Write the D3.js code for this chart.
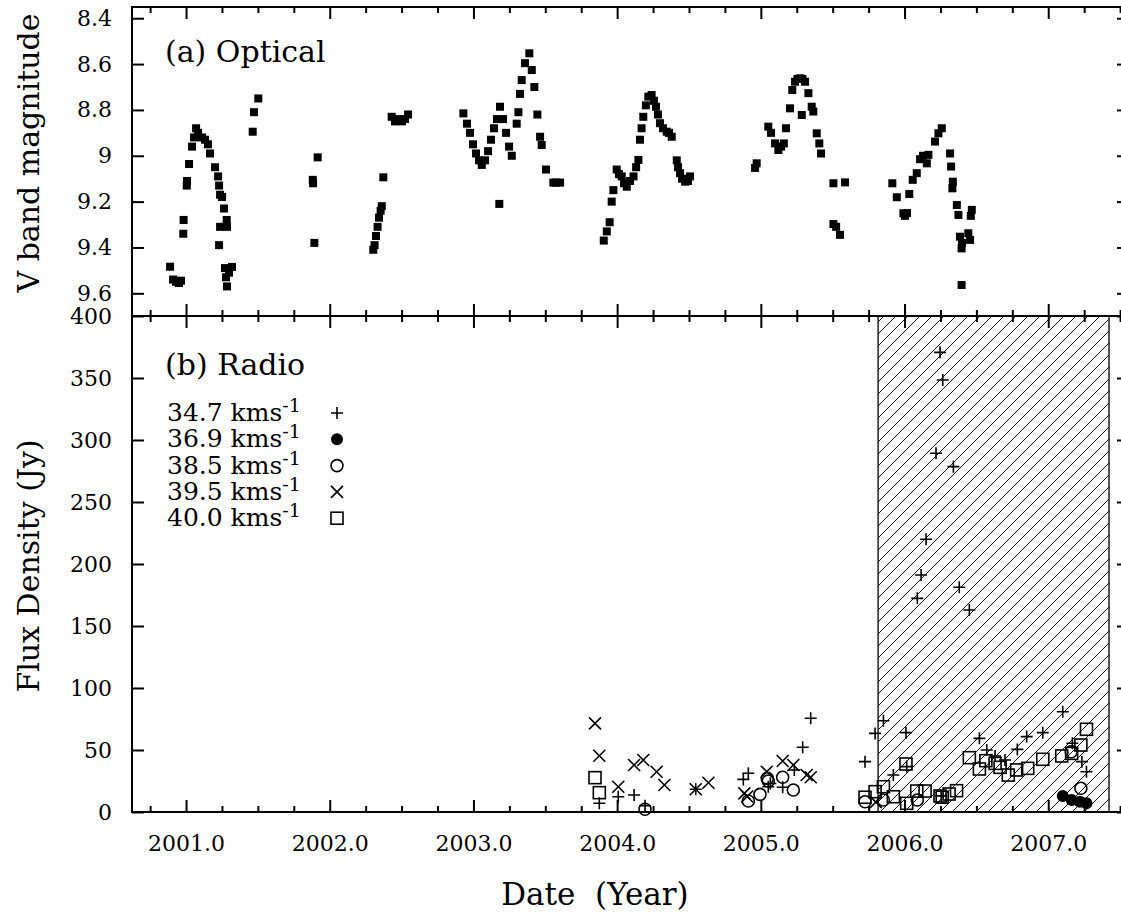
<!DOCTYPE html>
<html>

<head>
    <meta charset="UTF-8">
    <style>
        body { margin: 0; background: #fff; }
    </style>
    <script src="https://d3js.org/d3.v7.min.js"></script>
</head>

<body>
    <svg></svg>

    <script>
        let width = 1121, height = 912;
        const FONT = "'DejaVu Serif', serif";

        // ---- data ----
        // (a) optical: date (year) and V magnitude
        let optYear = [2000.889, 2000.910, 2000.930, 2000.951, 2000.965, 2000.981, 2000.983, 2001.005, 2001.007, 2001.021,
            2001.042, 2001.056, 2001.070, 2001.084, 2001.111, 2001.132, 2001.153, 2001.167, 2001.202, 2001.223,
            2001.230, 2001.237, 2001.251, 2001.264, 2001.283, 2001.285, 2001.237, 2001.230, 2001.271, 2001.278,
            2001.285, 2001.299, 2001.320, 2001.464, 2001.473, 2001.503, 2001.882, 2001.884, 2001.916, 2001.893,
            2002.303, 2002.312, 2002.322, 2002.333, 2002.343, 2002.354, 2002.362, 2002.373, 2002.431, 2002.454,
            2002.475, 2002.503, 2002.524, 2002.545,
            2002.930, 2002.955, 2002.976, 2002.997, 2003.018, 2003.039, 2003.058, 2003.081, 2003.102, 2003.122,
            2003.143, 2003.164, 2003.185, 2003.206, 2003.227, 2003.248, 2003.267, 2003.301, 2003.313, 2003.324,
            2003.336, 2003.359, 2003.389, 2003.406, 2003.424, 2003.445, 2003.464, 2003.475, 2003.505, 2003.556,
            2003.575, 2003.603, 2003.180,
            2003.907, 2003.928, 2003.948, 2003.962, 2003.974, 2003.997, 2004.013, 2004.032, 2004.048, 2004.067,
            2004.090, 2004.114, 2004.132, 2004.148, 2004.159, 2004.170, 2004.182, 2004.200, 2004.217, 2004.240,
            2004.256, 2004.270, 2004.284, 2004.298, 2004.319, 2004.345, 2004.361, 2004.380, 2004.415, 2004.424,
            2004.438, 2004.452, 2004.473, 2004.493, 2004.507,
            2004.960, 2004.971, 2005.052, 2005.071, 2005.099, 2005.122, 2005.141, 2005.160, 2005.175, 2005.203,
            2005.219, 2005.238, 2005.255, 2005.273, 2005.290, 2005.308, 2005.331, 2005.285, 2005.354, 2005.365,
            2005.389, 2005.407, 2005.419, 2005.505, 2005.586, 2005.505, 2005.524, 2005.551,
            2005.915, 2005.946, 2005.992, 2006.003, 2006.017, 2006.033, 2006.057, 2006.085, 2006.108, 2006.129,
            2006.155, 2006.166, 2006.212, 2006.236, 2006.259, 2006.317, 2006.324, 2006.336, 2006.333, 2006.364,
            2006.375, 2006.386, 2006.397, 2006.400, 2006.444, 2006.456, 2006.468, 2006.461, 2006.397];
        let optMag = [9.484, 9.540, 9.550, 9.555, 9.545, 9.340, 9.280, 9.130, 9.110, 9.036,
            8.960, 8.920, 8.880, 8.900, 8.920, 8.930, 8.950, 8.990, 9.050, 9.090,
            9.130, 9.170, 9.180, 9.230, 9.280, 9.310, 9.310, 9.390, 9.490, 9.530,
            9.570, 9.510, 9.485, 8.895, 8.810, 8.750, 9.105, 9.120, 9.007, 9.380,
            9.410, 9.390, 9.350, 9.310, 9.270, 9.240, 9.220, 9.094, 8.830, 8.850,
            8.840, 8.850, 8.840, 8.820,
            8.815, 8.860, 8.900, 8.950, 8.990, 9.020, 9.040, 9.020, 8.980, 8.930,
            8.880, 8.840, 8.786, 8.840, 8.900, 8.960, 9.000, 8.860, 8.810, 8.730,
            8.670, 8.596, 8.553, 8.626, 8.700, 8.820, 8.917, 8.953, 9.060, 9.117,
            9.117, 9.117, 9.210,
            9.370, 9.330, 9.290, 9.200, 9.150, 9.060, 9.080, 9.090, 9.120, 9.135,
            9.110, 9.090, 9.050, 9.018, 8.930, 8.880, 8.830, 8.780, 8.742, 8.735,
            8.760, 8.786, 8.820, 8.858, 8.880, 8.895, 8.900, 8.917, 9.020, 9.050,
            9.076, 9.100, 9.113, 9.110, 9.090,
            9.053, 9.033, 8.873, 8.900, 8.946, 8.975, 8.960, 8.946, 8.880, 8.793,
            8.713, 8.677, 8.665, 8.662, 8.665, 8.677, 8.727, 8.822, 8.786, 8.807,
            8.902, 8.946, 8.990, 9.120, 9.116, 9.298, 9.310, 9.345,
            9.120, 9.181, 9.251, 9.262, 9.250, 9.167, 9.105, 9.076, 9.015, 9.000,
            9.033, 8.996, 8.938, 8.902, 8.880, 8.990, 9.047, 9.113, 9.142, 9.215,
            9.258, 9.353, 9.404, 9.380, 9.338, 9.367, 9.236, 9.262, 9.564];

        // (b) radio: one pair of arrays per velocity channel
        let r347Year = [2003.876, 2004.008, 2004.118, 2004.194, 2004.547, 2004.878, 2004.913, 2005.052, 2005.066, 2005.152,
            2005.233, 2005.291, 2005.347, 2005.725, 2005.795, 2005.853, 2005.922, 2006.010, 2006.015, 2006.089,
            2006.115, 2006.150, 2006.219, 2006.247, 2006.266, 2006.340, 2006.381, 2006.451, 2006.255, 2006.521,
            2006.572, 2006.630, 2006.699, 2006.785, 2006.850, 2006.962, 2007.101, 2007.168, 2007.234, 2007.266];
        let r347Flux = [7, 12.3, 13.7, 5, 18.3, 26.3, 31.2, 20.4, 23, 19.9,
            33.9, 52.2, 75.6, 40.6, 63.4, 73.6, 29.8, 64, 36.6, 172.3,
            191.1, 219.9, 289.3, 370.7, 348.4, 278.5, 181.2, 162.9, 13, 59.4,
            50, 45.2, 41.9, 50.5, 60.8, 64, 80.9, 55.4, 40.6, 32.5];
        let r369Year = [2007.101, 2007.163, 2007.220, 2007.266];
        let r369Flux = [12.9, 9.7, 8.3, 7];
        let r385Year = [2004.194, 2004.913, 2004.994, 2005.045, 2005.052, 2005.152, 2005.226, 2005.725, 2005.853, 2006.089,
            2007.160, 2007.227];
        let r385Flux = [2.2, 8.9, 14.2, 27.1, 25, 28, 17.7, 8.3, 9.7, 9.7,
            48.6, 19.1];
        let r395Year = [2003.846, 2003.876, 2004.008, 2004.118, 2004.182, 2004.275, 2004.329, 2004.547, 2004.635, 2004.885,
            2004.905, 2005.041, 2005.152, 2005.226, 2005.319, 2005.347, 2005.800];
        let r395Flux = [71.5, 45.4, 20.4, 37.9, 41.9, 32.5, 21.8, 18.3, 23.6, 15,
            12.5, 32.5, 41.1, 37.9, 29.8, 28, 8];
        let r400Year = [2003.846, 2003.876, 2005.725, 2005.795, 2005.853, 2005.922, 2006.010, 2006.015, 2006.085, 2006.143,
            2006.247, 2006.262, 2006.310, 2006.362, 2006.451, 2006.521, 2006.566, 2006.630, 2006.665, 2006.722,
            2006.780, 2006.857, 2006.962, 2007.094, 2007.163, 2007.227, 2007.266];
        let r400Flux = [27.7, 15.6, 11.9, 16.4, 20.4, 12.3, 38.7, 7, 16.9, 16.9,
            12.9, 11.9, 14.5, 17.2, 43.8, 34.7, 41.4, 39.2, 36, 29.8,
            33.9, 35.2, 42.5, 45.2, 47.3, 54, 66.7];

        let velocities = ["34.7", "36.9", "38.5", "39.5", "40.0"];
        let symbols = ["plus", "dot", "circle", "cross", "square"];

        // hatched period
        let hatchStart = 2005.816, hatchEnd = 2007.423;

        // tick labels
        let yearTicks = [2001, 2002, 2003, 2004, 2005, 2006, 2007];
        let magTicks = [8.4, 8.6, 8.8, 9.0, 9.2, 9.4, 9.6];
        let fluxTicks = [0, 50, 100, 150, 200, 250, 300, 350, 400];
        let quarterTicks = d3.range(2000.75, 2007.51, 0.25).filter(d => Math.abs(d - Math.round(d)) > 0.01);

        // ---- layout ----
        let padL = 132, padR = 1129, padT = 7, padM = 316, padB = 812;

        let svg = d3.select("svg")
            .attr("width", width)
            .attr("height", height)
            .attr("viewBox", "0 0 " + width + " " + height)
            .style("font-family", FONT);

        let x = d3.scaleLinear().domain([2000.624, 2007.562]).range([padL, padR]);
        let yTop = d3.scaleLinear().domain([8.351, 9.699]).range([padT, padM]);
        let yBot = d3.scaleLinear().domain([0, 400]).range([padB, padM]);

        // hatch pattern
        let defs = svg.append("defs");
        defs.append("pattern")
            .attr("id", "hatch")
            .attr("patternUnits", "userSpaceOnUse")
            .attr("width", 12)
            .attr("height", 12)
            .append("path")
            .attr("d", "M-3,3 L3,-3 M0,12 L12,0 M9,15 L15,9")
            .attr("stroke", "#000")
            .attr("stroke-width", 0.9);

        svg.append("rect")
            .attr("x", x(hatchStart))
            .attr("y", padM)
            .attr("width", x(hatchEnd) - x(hatchStart))
            .attr("height", padB - padM)
            .attr("fill", "url(#hatch)")
            .attr("stroke", "#000")
            .attr("stroke-width", 1.3);

        // ---- axes: ticks inward on every side ----
        function xTicks(yPos, dir) {
            // dir = -1 ticks go up, +1 ticks go down
            svg.append("g")
                .attr("transform", "translate(0," + yPos + ")")
                .call(d3.axisBottom(x).tickValues(yearTicks).tickSize(12 * dir).tickSizeOuter(0).tickFormat(""))
                .call(g => g.select(".domain").remove());
            svg.append("g")
                .attr("transform", "translate(0," + yPos + ")")
                .call(d3.axisBottom(x).tickValues(quarterTicks).tickSize(6 * dir).tickSizeOuter(0).tickFormat(""))
                .call(g => g.select(".domain").remove());
        }
        xTicks(padT, 1);
        xTicks(padM, -1);
        xTicks(padM, 1);

        // bottom axis with year labels
        svg.append("g")
            .attr("class", "xlabels")
            .attr("transform", "translate(0," + padB + ")")
            .call(d3.axisBottom(x).tickValues(yearTicks).tickSize(-12).tickSizeOuter(0).tickPadding(39)
                .tickFormat(d => d.toFixed(1)))
            .call(g => g.select(".domain").remove());
        svg.append("g")
            .attr("transform", "translate(0," + padB + ")")
            .call(d3.axisBottom(x).tickValues(quarterTicks).tickSize(-6).tickSizeOuter(0).tickFormat(""))
            .call(g => g.select(".domain").remove());

        svg.append("g")
            .attr("class", "ylabels")
            .attr("transform", "translate(" + padL + ",0)")
            .call(d3.axisLeft(yTop).tickValues(magTicks).tickSize(-12).tickSizeOuter(0).tickPadding(20)
                .tickFormat(d => String(+d.toFixed(1))))
            .call(g => g.select(".domain").remove());
        svg.append("g")
            .attr("class", "ylabels")
            .attr("transform", "translate(" + padL + ",0)")
            .call(d3.axisLeft(yBot).tickValues(fluxTicks).tickSize(-12).tickSizeOuter(0).tickPadding(20))
            .call(g => g.select(".domain").remove());

        svg.append("g")
            .attr("transform", "translate(" + padR + ",0)")
            .call(d3.axisRight(yTop).tickValues(magTicks).tickSize(-12).tickSizeOuter(0).tickFormat(""))
            .call(g => g.select(".domain").remove());
        svg.append("g")
            .attr("transform", "translate(" + padR + ",0)")
            .call(d3.axisRight(yBot).tickValues(fluxTicks).tickSize(-12).tickSizeOuter(0).tickFormat(""))
            .call(g => g.select(".domain").remove());

        svg.selectAll(".tick line").attr("stroke", "#000").attr("stroke-width", 2);
        svg.selectAll(".xlabels text")
            .attr("dy", null)
            .attr("font-family", FONT)
            .attr("font-size", 22)
            .attr("fill", "#000");
        svg.selectAll(".ylabels text")
            .attr("font-family", FONT)
            .attr("font-size", 22)
            .attr("fill", "#000");

        // frames
        svg.append("rect")
            .attr("x", padL).attr("y", padT)
            .attr("width", padR - padL).attr("height", padM - padT)
            .attr("fill", "none").attr("stroke", "#000").attr("stroke-width", 2);
        svg.append("rect")
            .attr("x", padL).attr("y", padM)
            .attr("width", padR - padL).attr("height", padB - padM)
            .attr("fill", "none").attr("stroke", "#000").attr("stroke-width", 2);

        // ---- (a) optical points ----
        svg.append("g")
            .selectAll("rect")
            .data(optYear.map((d, i) => ({ t: d, m: optMag[i] })))
            .enter()
            .append("rect")
            .attr("x", d => x(d.t) - 4)
            .attr("y", d => yTop(d.m) - 4)
            .attr("width", 8)
            .attr("height", 8)
            .attr("fill", "#000");

        // ---- (b) radio points ----
        function drawSymbol(g, type, s) {
            if (type == "plus") {
                g.append("path").attr("d", "M" + (-s) + ",0H" + s + "M0," + (-s) + "V" + s)
                    .attr("stroke", "#000").attr("stroke-width", 1.6).attr("fill", "none");
            } else if (type == "cross") {
                g.append("path").attr("d", "M" + (-s) + "," + (-s) + "L" + s + "," + s + "M" + (-s) + "," + s + "L" + s + "," + (-s))
                    .attr("stroke", "#000").attr("stroke-width", 1.6).attr("fill", "none");
            } else if (type == "square") {
                g.append("rect").attr("x", -s).attr("y", -s).attr("width", 2 * s).attr("height", 2 * s)
                    .attr("stroke", "#000").attr("stroke-width", 1.6).attr("fill", "none");
            } else if (type == "circle") {
                g.append("circle").attr("r", s)
                    .attr("stroke", "#000").attr("stroke-width", 1.6).attr("fill", "none");
            } else {
                g.append("circle").attr("r", s).attr("fill", "#000");
            }
        }

        let radio = [
            { years: r347Year, flux: r347Flux },
            { years: r369Year, flux: r369Flux },
            { years: r385Year, flux: r385Flux },
            { years: r395Year, flux: r395Flux },
            { years: r400Year, flux: r400Flux }
        ];

        radio.forEach((series, k) => {
            series.years.forEach((t, i) => {
                let g = svg.append("g")
                    .attr("transform", "translate(" + x(t) + "," + yBot(series.flux[i]) + ")");
                drawSymbol(g, symbols[k], 6);
            });
        });

        // ---- texts ----
        svg.append("text")
            .attr("x", 165).attr("y", 62)
            .attr("font-size", 30)
            .text("(a) Optical");
        svg.append("text")
            .attr("x", 165).attr("y", 375)
            .attr("font-size", 30)
            .text("(b) Radio");

        // legend
        velocities.forEach((v, i) => {
            let yy = 413 + i * 26.3;
            let t = svg.append("text")
                .attr("x", 167).attr("y", yy + 8)
                .attr("font-size", 25);
            t.append("tspan").text(v + " kms");
            t.append("tspan").attr("dy", -9).attr("font-size", 19).text("-1");
            let g = svg.append("g").attr("transform", "translate(337," + yy + ")");
            drawSymbol(g, symbols[i], 6);
        });

        // axis titles
        svg.append("text")
            .attr("transform", "translate(39,153) rotate(-90)")
            .attr("text-anchor", "middle")
            .attr("font-size", 30)
            .text("V band magnitude");
        svg.append("text")
            .attr("transform", "translate(39,566) rotate(-90)")
            .attr("text-anchor", "middle")
            .attr("font-size", 30)
            .text("Flux Density (Jy)");
        svg.append("text")
            .attr("x", 595).attr("y", 905)
            .attr("text-anchor", "middle")
            .attr("font-size", 31)
            .attr("xml:space", "preserve")
            .text("Date  (Year)");
    </script>

</body>

</html>
